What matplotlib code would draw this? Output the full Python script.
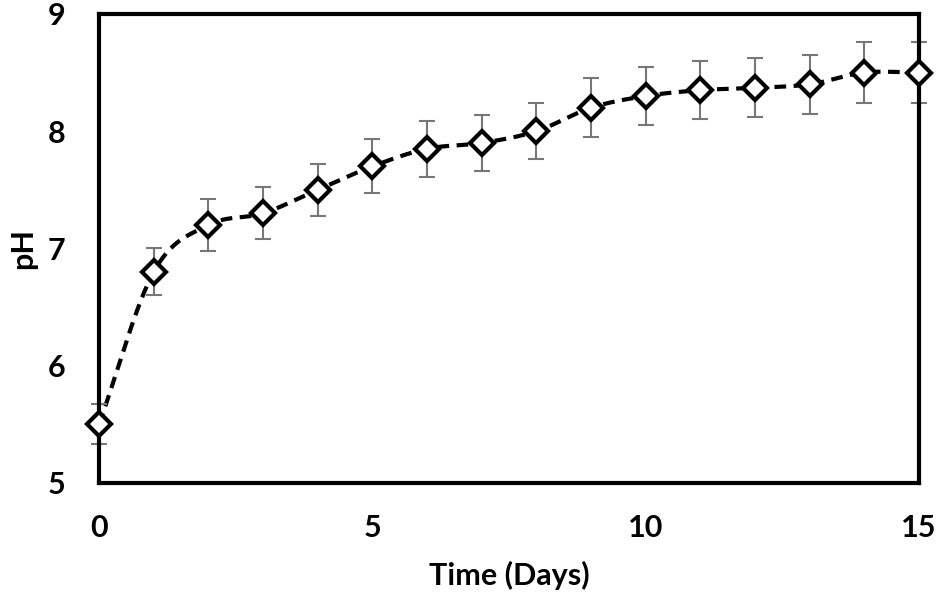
import matplotlib
matplotlib.use("Agg")
import matplotlib.pyplot as plt
import numpy as np

plt.rcParams['font.family'] = ['Lato', 'DejaVu Sans']

# Datos
dias = [0, 1, 2, 3, 4, 5, 6, 7, 8, 9, 10, 11, 12, 13, 14, 15]
ph = [5.5, 6.8, 7.2, 7.3, 7.5, 7.7, 7.85, 7.9, 8.0, 8.2, 8.3, 8.35, 8.37, 8.4, 8.5, 8.5]
error = [0.17, 0.2, 0.22, 0.22, 0.22, 0.23, 0.24, 0.24, 0.24, 0.25, 0.25, 0.25, 0.25, 0.25, 0.26, 0.26]


def suavizar(x, y, n=30):
    # curva tipo Catmull-Rom (linea suavizada estilo Excel)
    x = np.asarray(x, float)
    y = np.asarray(y, float)
    px = np.concatenate([[2 * x[0] - x[1]], x, [2 * x[-1] - x[-2]]])
    py = np.concatenate([[2 * y[0] - y[1]], y, [2 * y[-1] - y[-2]]])
    xs, ys = [], []
    t = np.linspace(0, 1, n)
    for i in range(1, len(px) - 2):
        for p, out in ((px, xs), (py, ys)):
            p0, p1, p2, p3 = p[i - 1], p[i], p[i + 1], p[i + 2]
            out.extend(0.5 * (2 * p1 + (-p0 + p2) * t
                              + (2 * p0 - 5 * p1 + 4 * p2 - p3) * t ** 2
                              + (-p0 + 3 * p1 - 3 * p2 + p3) * t ** 3))
    return np.array(xs), np.array(ys)


fig = plt.figure(figsize=(9.37, 5.93), dpi=100)
ax = fig.add_axes([0.1057, 0.1855, 0.8751, 0.791])

xs, ys = suavizar(dias, ph)
ax.plot(xs, ys, color='black', linewidth=3, linestyle=(0, (2.8, 1.8)), zorder=2, clip_on=False)
ax.errorbar(dias, ph, yerr=error, fmt='none', ecolor='#777777', elinewidth=1.5,
            capsize=5.5, capthick=1.5, zorder=3, clip_on=False)
ax.plot(dias, ph, linestyle='none', marker='D', markersize=12, markerfacecolor='white',
        markeredgecolor='black', markeredgewidth=3, zorder=5, clip_on=False)

ax.set_xlim(0, 15)
ax.set_ylim(5, 9)
ax.set_xticks([0, 5, 10, 15])
ax.set_yticks([5, 6, 7, 8, 9])
ax.tick_params(length=0, labelsize=22)
ax.tick_params(axis='x', pad=22)
ax.tick_params(axis='y', pad=24)
for lab in ax.get_xticklabels() + ax.get_yticklabels():
    lab.set_fontweight('bold')
for s in ax.spines.values():
    s.set_linewidth(3)
    s.set_color('black')
    s.set_zorder(4)

ax.set_xlabel('Time (Days)', fontsize=22, fontweight='bold', labelpad=14)
ax.set_ylabel('pH', fontsize=22, fontweight='bold', labelpad=8)

fig.savefig('out.png', dpi=100)
